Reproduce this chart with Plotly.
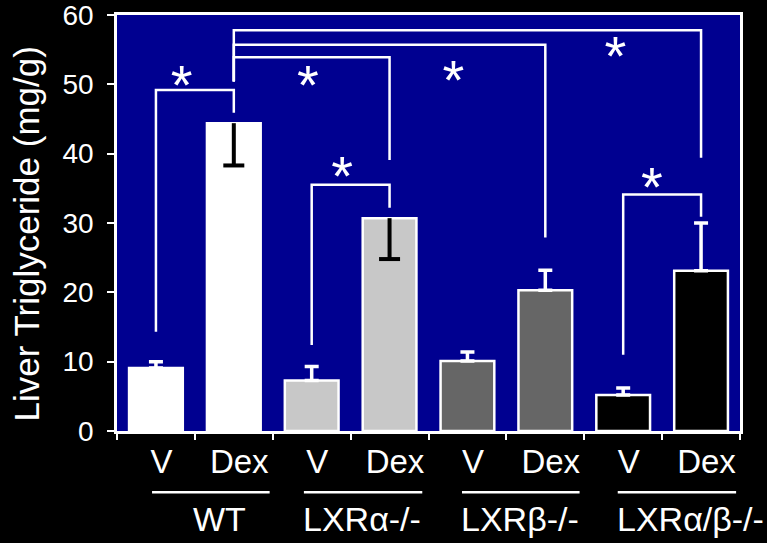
import plotly.graph_objects as go

# Liver triglyceride, vehicle (V) vs dexamethasone (Dex) by genotype
bar_labels = ["V", "Dex", "V", "Dex", "V", "Dex", "V", "Dex"]
groups = ["WT", "LXR\u03b1-/-", "LXR\u03b2-/-", "LXR\u03b1/\u03b2-/-"]
values = [9.1, 44.4, 7.3, 30.7, 10.1, 20.3, 5.2, 23.1]
err_up = [0.9, 0.0, 2.0, 0.0, 1.3, 2.9, 1.0, 6.9]
err_down = [0.0, 6.1, 0.0, 5.9, 0.0, 0.0, 0.0, 0.0]
bar_colors = ["#ffffff", "#ffffff", "#c8c8c8", "#c8c8c8",
              "#666666", "#666666", "#000000", "#000000"]

# significance brackets: (left bar, right bar, top, left foot, right foot)
brackets = [
    (0, 1, 49.2, 14.3, 45.9),
    (1, 3, 53.9, 50.4, 39.1),
    (1, 5, 55.7, 50.4, 27.9),
    (1, 7, 57.8, 50.4, 39.4),
    (2, 3, 35.5, 12.4, 32.2),
    (6, 7, 34.1, 11.0, 30.9),
]
star_x = [0.33, 1.95, 3.82, 5.90, 2.39, 6.37]
star_y = [49.2, 49.2, 49.9, 53.3, 36.0, 34.5]

# group underline spans and label centres (in bar-index units)
group_spans = [(-0.05, 1.46), (1.90, 3.42), (3.93, 5.44), (5.93, 7.45)]
group_label_x = [0.81, 2.65, 4.68, 6.87]

FONT = "Liberation Sans, Arial, Helvetica, sans-serif"
idx = list(range(len(values)))

fig = go.Figure()

fig.add_trace(go.Bar(
    x=idx, y=values,
    marker=dict(color=bar_colors, line=dict(color="white", width=2.5)),
    width=0.69, showlegend=False, hoverinfo="skip",
))

# upward error bars (white)
up_i = [i for i in idx if err_up[i] > 0]
fig.add_trace(go.Scatter(
    x=up_i, y=[values[i] for i in up_i], mode="markers",
    marker=dict(opacity=0),
    error_y=dict(type="data", symmetric=False,
                 array=[err_up[i] for i in up_i],
                 arrayminus=[0] * len(up_i),
                 color="white", thickness=3.5, width=7),
    showlegend=False, hoverinfo="skip",
))

# downward error bars (black), drawn into the bar with a cap at the low end
dn_i = [i for i in idx if err_down[i] > 0]
for i in dn_i:
    fig.add_trace(go.Scatter(
        x=[i, i], y=[values[i], values[i] - err_down[i]], mode="lines",
        line=dict(color="black", width=4),
        showlegend=False, hoverinfo="skip",
    ))
fig.add_trace(go.Scatter(
    x=dn_i, y=[values[i] - err_down[i] for i in dn_i], mode="markers",
    marker=dict(symbol="line-ew", size=15,
                line=dict(color="black", width=4)),
    showlegend=False, hoverinfo="skip",
))

# significance brackets
for (a, b, top, fa, fb) in brackets:
    fig.add_trace(go.Scatter(
        x=[a, a, b, b], y=[fa, top, top, fb], mode="lines",
        line=dict(color="white", width=2.5),
        showlegend=False, hoverinfo="skip",
    ))

fig.add_trace(go.Scatter(
    x=star_x, y=star_y, mode="text", text=["*"] * len(star_x),
    textfont=dict(family=FONT, size=56, color="white"),
    textposition="middle center", showlegend=False, hoverinfo="skip",
))

# V / Dex labels on an overlaid axis so the boundaries keep the ticks
fig.add_trace(go.Scatter(x=[0], y=[0], xaxis="x2", mode="markers",
                         marker=dict(opacity=0), showlegend=False,
                         hoverinfo="skip"))

for (x0, x1) in group_spans:
    fig.add_shape(type="line", xref="x", yref="paper",
                  x0=x0, x1=x1, y0=-0.147, y1=-0.147,
                  line=dict(color="white", width=2.5))
for gx, name in zip(group_label_x, groups):
    fig.add_annotation(x=gx, y=-0.212, xref="x", yref="paper",
                       text=name, showarrow=False, yanchor="middle",
                       font=dict(family=FONT, size=34, color="white"))

fig.add_annotation(x=-0.145, y=0.474, xref="paper", yref="paper",
                   text="Liver Triglyceride (mg/g)", textangle=-90,
                   showarrow=False, xanchor="center", yanchor="middle",
                   font=dict(family=FONT, size=35, color="white"))

fig.update_layout(
    width=767, height=543,
    margin=dict(l=117, r=27, t=15, b=112, autoexpand=False),
    paper_bgcolor="black", plot_bgcolor="#000090",
    font=dict(family=FONT, color="white"),
    xaxis=dict(range=[-0.5, 7.5], tickvals=[i - 0.5 for i in range(9)],
               showticklabels=False, ticks="outside", ticklen=6,
               tickwidth=2, tickcolor="white", showline=True,
               linecolor="white", linewidth=2.5, mirror=True,
               showgrid=False, zeroline=False, automargin=False),
    xaxis2=dict(overlaying="x", anchor="y", side="bottom",
                range=[-0.57, 7.43], tickvals=idx, ticktext=bar_labels,
                ticks="outside", ticklen=1, tickcolor="rgba(0,0,0,0)",
                showline=False, showgrid=False, zeroline=False,
                automargin=False,
                tickfont=dict(family=FONT, size=33, color="white")),
    yaxis=dict(range=[0, 60.001], tickvals=[0, 10, 20, 30, 40, 50, 60],
               ticks="outside", ticklen=7, tickwidth=2, tickcolor="white",
               showline=True, linecolor="white", linewidth=2.5, mirror=True,
               showgrid=False, zeroline=False, ticklabelstandoff=8,
               ticklabeloverflow="allow", automargin=False,
               tickfont=dict(family=FONT, size=28, color="white")),
)

fig.write_html("out.html")
